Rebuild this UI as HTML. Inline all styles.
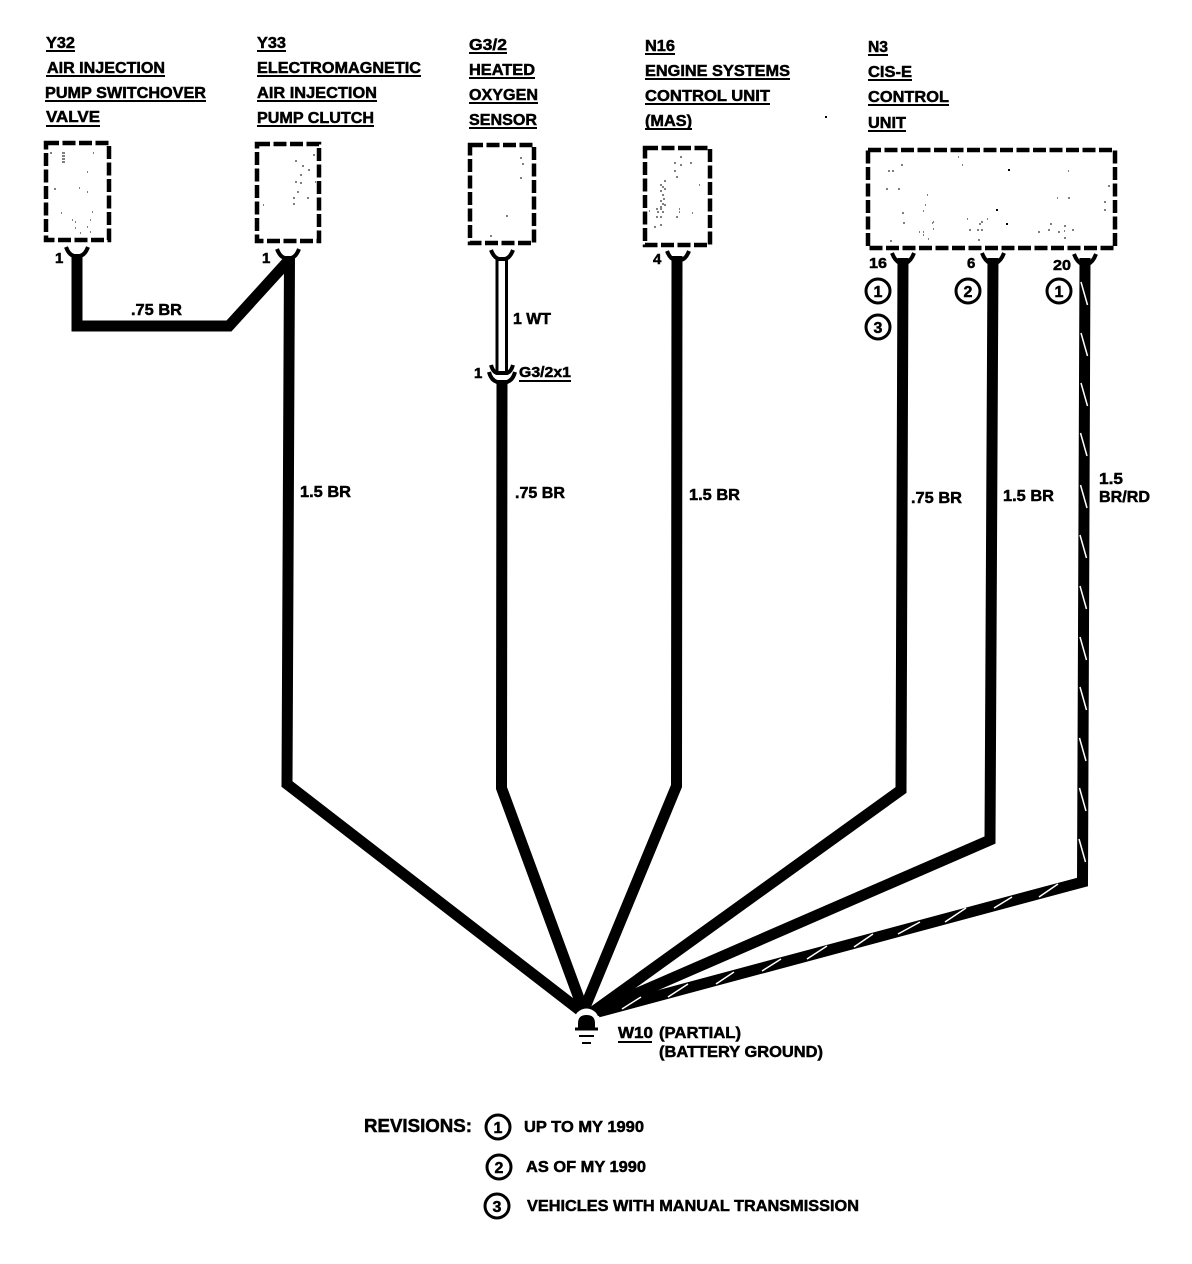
<!DOCTYPE html>
<html><head><meta charset="utf-8"><style>
html,body{margin:0;padding:0;background:#fff}
svg{display:block}
text{font-family:"Liberation Sans",sans-serif;font-weight:bold;font-size:16px;fill:#000;stroke:#000;stroke-width:.5px}
.u{stroke:#000;stroke-width:2;fill:none}
.box{fill:none;stroke:#000;stroke-width:4.5;stroke-dasharray:13 3.500}
.w{fill:none;stroke:#000;stroke-width:11;stroke-linejoin:miter}
.c{fill:none;stroke:#000;stroke-width:4}
.r{fill:#fff;stroke:#000;stroke-width:3}
.s{fill:none;stroke:#fff;stroke-width:1.5}
.d{fill:none;stroke:#000;stroke-width:1}
.p{font-size:15px}
.n{font-size:15px}
</style></head><body>
<svg width="1192" height="1264" viewBox="0 0 1192 1264" xmlns="http://www.w3.org/2000/svg">
<rect width="1192" height="1264" fill="#fff"/>
<!-- titles -->
<text x="46" y="48" textLength="29" lengthAdjust="spacingAndGlyphs">Y32</text><path class="u" d="M46 51H75"/>
<text x="47" y="73" textLength="118" lengthAdjust="spacingAndGlyphs">AIR INJECTION</text><path class="u" d="M46 76H165"/>
<text x="45" y="98" textLength="161" lengthAdjust="spacingAndGlyphs">PUMP SWITCHOVER</text><path class="u" d="M45 101H206"/>
<text x="46" y="122" textLength="54" lengthAdjust="spacingAndGlyphs">VALVE</text><path class="u" d="M46 126H100"/>

<text x="257" y="48" textLength="29" lengthAdjust="spacingAndGlyphs">Y33</text><path class="u" d="M257 51H286"/>
<text x="257" y="73" textLength="164" lengthAdjust="spacingAndGlyphs">ELECTROMAGNETIC</text><path class="u" d="M257 76H421"/>
<text x="257" y="98" textLength="120" lengthAdjust="spacingAndGlyphs">AIR INJECTION</text><path class="u" d="M257 101H377"/>
<text x="257" y="123" textLength="117" lengthAdjust="spacingAndGlyphs">PUMP CLUTCH</text><path class="u" d="M257 126H374"/>

<text x="469" y="50" textLength="38" lengthAdjust="spacingAndGlyphs">G3/2</text><path class="u" d="M469 53H507"/>
<text x="469" y="75" textLength="66" lengthAdjust="spacingAndGlyphs">HEATED</text><path class="u" d="M469 78H535"/>
<text x="469" y="100" textLength="69" lengthAdjust="spacingAndGlyphs">OXYGEN</text><path class="u" d="M469 103H538"/>
<text x="469" y="125" textLength="68" lengthAdjust="spacingAndGlyphs">SENSOR</text><path class="u" d="M469 128H537"/>

<text x="645" y="51" textLength="30" lengthAdjust="spacingAndGlyphs">N16</text><path class="u" d="M645 54H675"/>
<text x="645" y="76" textLength="145" lengthAdjust="spacingAndGlyphs">ENGINE SYSTEMS</text><path class="u" d="M645 79H790"/>
<text x="645" y="101" textLength="125" lengthAdjust="spacingAndGlyphs">CONTROL UNIT</text><path class="u" d="M645 104H770"/>
<text x="645" y="126" textLength="47" lengthAdjust="spacingAndGlyphs">(MAS)</text><path class="u" d="M645 129H692"/>

<text x="868" y="52" textLength="20" lengthAdjust="spacingAndGlyphs">N3</text><path class="u" d="M868 55H888"/>
<text x="868" y="77" textLength="44" lengthAdjust="spacingAndGlyphs">CIS-E</text><path class="u" d="M868 80H912"/>
<text x="868" y="102" textLength="81" lengthAdjust="spacingAndGlyphs">CONTROL</text><path class="u" d="M868 105H949"/>
<text x="868" y="128" textLength="38" lengthAdjust="spacingAndGlyphs">UNIT</text><path class="u" d="M868 131H906"/>

<!-- boxes -->
<rect class="box" x="46" y="143" width="63" height="97"/>
<rect class="box" x="257" y="144" width="62" height="97"/>
<rect class="box" x="470" y="145" width="64" height="98"/>
<rect class="box" x="645" y="148" width="65" height="97"/>
<rect class="box" x="868" y="150" width="247" height="98"/>

<!-- specks inside boxes -->
<path class="d" d="M62 153h3M62 156h3M62 159h3M62 162h3M50 153h2M93 153h1M87 172h1M54 189h2M79 188h1M87 192h1M61 213h1M92 212h1M72 220h1M75 222h1M90 220h1M87 227h1M75 228h1M90 232h1M80 233h1"/>
<path class="d" d="M313 155h2M295 161h2M302 166h2M308 170h2M300 175h2M295 182h2M300 183h2M315 182h1M297 192h2M307 198h2M293 198h2M293 204h2M263 205h1"/>
<path class="d" d="M520 158h2M522 164h2M520 178h2M506 216h2M490 236h2"/>
<path class="d" d="M680 157h2M674 163h2M680 165h2M690 163h2M674 171h2M676 177h2M699 185h1M664 181h2M660 185h2M662 187h2M664 189h2M660 191h2M662 195h2M663 199h2M660 201h2M662 204h2M664 205h2M660 207h2M656 209h2M660 209h2M657 212h2M662 212h2M649 211h1M679 209h1M679 212h1M692 213h1M676 217h2M656 217h2M660 217h2M654 227h2M660 225h2"/>
<path class="d" d="M901 165h2M888 171h2M892 171h2M886 189h2M898 189h2M902 213h2M903 223h2M927 195h1M925 205h1M923 211h1M933 222h1M932 223h1M933 229h1M919 232h1M923 232h1M923 235h1M928 239h1M890 241h2M958 157h1M962 165h1M1068 171h1M1108 186h2M1057 198h1M1068 198h2M1104 202h2M1104 210h2M967 219h1M987 219h1M981 222h2M979 224h2M969 230h2M977 230h2M981 230h2M978 240h2M1050 224h2M1064 226h2M1048 230h2M1038 232h2M1058 232h2M1064 231h1M1072 230h2M1064 238h2"/>
<rect x="1008" y="169" width="2" height="2"/><rect x="996" y="209" width="2" height="2"/><rect x="1006" y="223" width="2" height="2"/>

<!-- wires -->
<path class="w" d="M77 256V326H229L289 260"/>
<path class="w" d="M289.500 256L287 784L582 1012"/>
<path class="w" d="M502 381L501.500 788L584 1012"/>
<path class="w" d="M677 256L676.500 786L583 1012"/>
<path class="w" d="M903 258L901 790L590 1014"/>
<path class="w" d="M993 258L990 840L594 1012"/>
<path class="w" d="M1085 258L1082.500 882L598 1012"/>
<!-- white wire -->
<path d="M497 258V373M506.500 258V373" stroke="#000" stroke-width="3" fill="none"/>
<!-- tracer stripes -->
<path class="s" d="M1081 282l6.500 23M1081 333l6.500 23M1081 383l6.500 23M1080.500 433l6.500 23M1080.500 485l6.500 23M1080 535l6.500 23M1080 586l6.500 23M1080 637l6.500 23M1080 687l6.500 23M1079.500 738l6.500 23M1079.500 788l6.500 23M1079 839l6.500 23"/>
<path class="s" d="M1039 897L1058 884M994 908L1012 897M945 922L966 908M898 934L920 922M854 947L873 934M807 959L827 946M762 971L781 959M716 984L734 972M668 997L688 984M622 1009L641 997"/>

<!-- connectors -->
<g class="c">
<path d="M66 247Q69 255 74 256H80Q85 255 88 247"/>
<path d="M277 249Q280 257 285 258H291Q296 257 299 249"/>
<path d="M491 250Q494 258 499 259H505Q510 258 513 250"/>
<path d="M667 251Q670 259 675 260H681Q686 259 689 251"/>
<path d="M892 253Q895 261 900 263H906Q911 261 914 253"/>
<path d="M982 253Q985 261 990 263H996Q1001 261 1004 253"/>
<path d="M1074 254Q1077 262 1082 264H1088Q1093 262 1096 254"/>
<path d="M491 365Q493 372 497 373H507Q511 372 513 365"/>
<path d="M489 372Q491 380 497 382H507Q513 380 515 372"/>
</g>

<!-- pin labels -->
<text class="p" x="55" y="263" style="font-size:15px">1</text>
<text x="262" y="263" style="font-size:15px">1</text>
<text x="653" y="264" style="font-size:15px">4</text>
<text x="869" y="268" textLength="18" lengthAdjust="spacingAndGlyphs" style="font-size:15px">16</text>
<text x="967" y="268" style="font-size:15px">6</text>
<text x="1053" y="270" textLength="18" lengthAdjust="spacingAndGlyphs" style="font-size:15px">20</text>
<text x="474" y="378" style="font-size:15px">1</text>
<text x="519" y="377" textLength="52" lengthAdjust="spacingAndGlyphs" style="font-size:15px">G3/2x1</text><path class="u" d="M519 381H571"/>

<!-- wire labels -->
<text x="131" y="315" textLength="51" lengthAdjust="spacingAndGlyphs">.75 BR</text>
<text x="513" y="324" textLength="38" lengthAdjust="spacingAndGlyphs">1 WT</text>
<text x="300" y="497" textLength="51" lengthAdjust="spacingAndGlyphs">1.5 BR</text>
<text x="515" y="498" textLength="50" lengthAdjust="spacingAndGlyphs">.75 BR</text>
<text x="689" y="500" textLength="51" lengthAdjust="spacingAndGlyphs">1.5 BR</text>
<text x="911" y="503" textLength="51" lengthAdjust="spacingAndGlyphs">.75 BR</text>
<text x="1003" y="501" textLength="51" lengthAdjust="spacingAndGlyphs">1.5 BR</text>
<text x="1099" y="484" textLength="24" lengthAdjust="spacingAndGlyphs">1.5</text>
<text x="1099" y="502" textLength="51" lengthAdjust="spacingAndGlyphs">BR/RD</text>

<!-- circled numbers -->
<circle class="r" cx="878" cy="291" r="12"/><text x="878" y="297" text-anchor="middle" style="font-size:16px">1</text>
<circle class="r" cx="878" cy="327" r="12"/><text x="878" y="333" text-anchor="middle" style="font-size:16px">3</text>
<circle class="r" cx="968" cy="291" r="12"/><text x="968" y="297" text-anchor="middle" style="font-size:16px">2</text>
<circle class="r" cx="1059" cy="291" r="12"/><text x="1059" y="297" text-anchor="middle" style="font-size:16px">1</text>

<!-- ground -->
<circle cx="586.500" cy="1021" r="12.500" fill="#fff"/>
<path d="M578 1029V1023Q578 1015 586.500 1015Q595 1015 595 1023V1029Z" fill="#000"/>
<path d="M575 1029H598" stroke="#000" stroke-width="3"/>
<path d="M579 1036H594" stroke="#000" stroke-width="2"/>
<path d="M582 1043H591" stroke="#000" stroke-width="2"/>
<text x="618" y="1038" textLength="35" lengthAdjust="spacingAndGlyphs">W10</text><path class="u" d="M618 1042H652"/>
<text x="659" y="1038" textLength="82" lengthAdjust="spacingAndGlyphs">(PARTIAL)</text>
<text x="659" y="1057" textLength="164" lengthAdjust="spacingAndGlyphs">(BATTERY GROUND)</text>

<!-- revisions -->
<text x="364" y="1132" textLength="108" lengthAdjust="spacingAndGlyphs" style="font-size:18px">REVISIONS:</text>
<circle class="r" cx="498" cy="1127" r="12"/><text x="498" y="1133" text-anchor="middle" style="font-size:16px">1</text>
<text x="524" y="1132" textLength="120" lengthAdjust="spacingAndGlyphs">UP TO MY 1990</text>
<circle class="r" cx="499" cy="1167" r="12"/><text x="499" y="1173" text-anchor="middle" style="font-size:16px">2</text>
<text x="526" y="1172" textLength="120" lengthAdjust="spacingAndGlyphs">AS OF MY 1990</text>
<circle class="r" cx="497" cy="1206" r="12"/><text x="497" y="1212" text-anchor="middle" style="font-size:16px">3</text>
<text x="527" y="1211" textLength="332" lengthAdjust="spacingAndGlyphs">VEHICLES WITH MANUAL TRANSMISSION</text>

<!-- speck -->
<rect x="825" y="116" width="2" height="2" fill="#000"/>
</svg>
</body></html>
